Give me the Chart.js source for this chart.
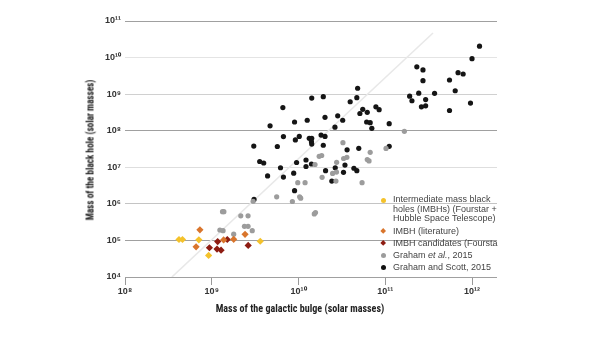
<!DOCTYPE html>
<html>
<head>
<meta charset="utf-8">
<script src="https://cdn.jsdelivr.net/npm/chart.js@4.4.1/dist/chart.umd.min.js"></script>
<style>
  html, body { margin:0; padding:0; background:#fff; }
  #wrap { position:relative; width:600px; height:337px; overflow:hidden; }
  canvas { position:absolute; left:0; top:0; }
  .title { position:absolute; font-family:"Liberation Sans Narrow","Roboto Condensed","Liberation Sans",sans-serif; font-weight:bold; font-size:10.5px; color:#222; white-space:nowrap; }
  #xtitle { left:0; width:600px; text-align:center; top:302px; transform:scaleX(0.96); }
  #ytitle { left:90px; top:150px; transform:translate(-50%,-50%) rotate(-90deg) scaleX(0.88); }
  #legend { position:absolute; left:378px; top:190px; width:120px; height:90px; overflow:hidden; font-family:"Liberation Sans",Arial,sans-serif; font-size:9px; color:#444; }
  .item { position:absolute; left:15px; white-space:nowrap; line-height:9.6px; }
  .mk { position:absolute; width:5px; height:5px; }
  .circ { border-radius:50%; }
  .dia { transform:rotate(45deg); width:4.4px; height:4.4px; }
</style>
</head>
<body>
<div id="wrap">
  <canvas id="c" width="600" height="337"></canvas>
  <div id="xtitle" class="title">Mass of the galactic bulge (solar masses)</div>
  <div id="ytitle" class="title">Mass of the black hole (solar masses)</div>
  <div id="legend">
    <div class="mk circ" style="left:3px;top:7.5px;background:#f4c22b"></div>
    <div class="item" style="top:5px">Intermediate mass black<br>holes (IMBHs) (Fourstar +<br>Hubble Space Telescope)</div>
    <div class="mk dia" style="left:3px;top:39px;background:#d9752c"></div>
    <div class="item" style="top:36.5px">IMBH (literature)</div>
    <div class="mk dia" style="left:3px;top:51px;background:#8e1c12"></div>
    <div class="item" style="top:48.5px">IMBH candidates (Fourstar + Hubble Space Telescope)</div>
    <div class="mk circ" style="left:3px;top:62.5px;background:#9c9c9c"></div>
    <div class="item" style="top:60.5px">Graham <i>et al.</i>, 2015</div>
    <div class="mk circ" style="left:3px;top:74.5px;background:#111"></div>
    <div class="item" style="top:72.5px">Graham and Scott, 2015</div>
  </div>
</div>
<script>
// ---- tick values and labels ----
const xTicks = [1e8, 1e9, 1e10, 1e11, 1e12];
const xTickLabels = ['10⁸', '10⁹', '10¹⁰', '10¹¹', '10¹²'];
const yTicks = [1e4, 1e5, 1e6, 1e7, 1e8, 1e9, 1e10, 1e11];
const yTickLabels = ['10⁴', '10⁵', '10⁶', '10⁷', '10⁸', '10⁹', '10¹⁰', '10¹¹'];

// ---- series: galactic bulge mass (x) and black hole mass (y), solar masses ----
const imbhFourstarBulge = [4.19e8, 4.6e8, 7.1e8, 9.2e8, 3.62e9];
const imbhFourstarBH    = [1.06e5, 1.06e5, 1.04e5, 3.9e4, 9.5e4];

const imbhLiteratureBulge = [7.3e8, 6.6e8, 1.37e9, 1.79e9, 2.42e9];
const imbhLiteratureBH    = [1.95e5, 6.7e4, 1.03e5, 1.07e5, 1.47e5];

const imbhCandidateBulge = [9.4e8, 1.17e9, 1.15e9, 1.28e9, 1.51e9, 2.63e9];
const imbhCandidateBH    = [6.3e4, 9.3e4, 5.8e4, 5.4e4, 1.06e5, 7.3e4];

const graham2015Bulge = [1.73e10, 1.85e10, 3.25e10, 1.66e11, 6.7e10, 1.02e11, 3.61e10, 3.31e10, 6.2e10, 6.5e10,
  2.75e10, 2.47e10, 2.74e10, 2.7e10, 5.4e10, 1.87e10, 9.8e9, 1.19e10, 1.03e10, 1.06e10,
  5.6e9, 8.5e9, 3.0e9, 1.52e10, 1.57e10, 1.55e10, 1.33e9, 1.38e9, 2.16e9, 2.62e9,
  2.38e9, 2.62e9, 2.93e9, 1.24e9, 1.35e9, 1.79e9];
const graham2015BH = [2.0e7, 2.1e7, 4.7e7, 9.6e7, 2.57e7, 3.27e7, 1.87e7, 1.74e7, 1.63e7, 1.49e7,
  1.37e7, 6.8e6, 7.4e6, 4.2e6, 3.79e6, 5.3e6, 3.79e6, 3.79e6, 1.56e6, 1.43e6,
  1.56e6, 1.16e6, 1.18e6, 5.3e5, 5.8e5, 1.19e7, 6.1e5, 6.1e5, 4.7e5, 4.7e5,
  2.43e5, 2.43e5, 1.85e5, 1.93e5, 1.85e5, 1.48e5];

const grahamScottBulge = [1.42e10, 1.93e10, 6.6e9, 4.7e9, 9.0e9, 1.26e10, 2.02e10, 6.7e9, 9.2e9, 1.02e10,
  1.33e10, 1.42e10, 1.41e10, 1.42e10, 1.82e10, 2.02e10, 1.93e10, 3.05e9, 5.7e9, 3.57e9,
  3.97e9, 9.5e9, 1.22e10, 1.41e10, 1.22e10, 6.2e9, 4.4e9, 6.7e9, 8.8e9, 2.05e10,
  9.0e9, 3.07e9, 4.8e10, 4.7e10, 3.94e10, 2.83e10, 3.23e10, 2.63e10, 5.5e10, 5.1e10,
  6.2e10, 7.8e10, 8.5e10, 6.1e10, 6.7e10, 7.0e10, 1.11e11, 4.95e10, 3.63e10, 1.11e11,
  2.65e10, 3.43e10, 4.35e10, 4.7e10, 3.3e10, 2.42e10, 2.31e11, 2.72e11, 2.72e11, 1.91e11,
  2.03e11, 2.43e11, 2.92e11, 2.61e11, 2.92e11, 3.7e11, 5.5e11, 6.9e11, 7.9e11, 6.4e11,
  5.5e11, 9.6e11, 1.0e12, 1.22e12];
const grahamScottBH = [7.8e8, 8.5e8, 4.3e8, 1.36e8, 1.73e8, 1.93e8, 2.33e8, 6.9e7, 5.6e7, 7.0e7,
  6.2e7, 6.2e7, 5.0e7, 4.3e7, 7.6e7, 7.0e7, 4.0e7, 3.8e7, 3.7e7, 1.44e7,
  1.31e7, 1.35e7, 1.58e7, 1.23e7, 1.05e7, 9.7e6, 5.8e6, 5.4e6, 6.9e6, 8.1e6,
  2.29e6, 1.32e6, 1.45e9, 8.0e8, 6.2e8, 2.56e8, 1.93e8, 1.25e8, 3.85e8, 2.96e8,
  3.19e8, 4.5e8, 3.76e8, 1.73e8, 1.66e8, 1.16e8, 1.56e8, 3.3e7, 3.0e7, 3.75e7,
  9.7e6, 1.15e7, 9.4e6, 8.1e6, 7.3e6, 4.2e6, 5.6e9, 4.6e9, 2.33e9, 8.8e8,
  6.6e8, 1.06e9, 7.1e8, 4.5e8, 4.8e8, 1.05e9, 2.44e9, 3.86e9, 3.56e9, 1.24e9,
  3.57e8, 5.7e8, 9.3e9, 2.05e10];

// reference relation line (two end points)
const relationBulge = [3.47e8, 3.55e11];
const relationBH    = [1e4, 4.7e10];

const pts = (xs, ys) => xs.map((x, i) => ({ x: x, y: ys[i] }));

const gridColors = { 4: '#a0a0a0', 5: '#a0a0a0', 6: '#c4c4c4', 7: '#dedede', 8: '#a0a0a0', 9: '#d0d0d0', 10: '#e4e4e4', 11: '#a0a0a0' };
const tickFont = { family: '"Liberation Sans Narrow","Liberation Sans",sans-serif', size: 9, weight: 'bold' };

new Chart(document.getElementById('c'), {
  type: 'scatter',
  data: {
    datasets: [
      { label: 'IMBHs (Fourstar + HST)', data: pts(imbhFourstarBulge, imbhFourstarBH), pointStyle: 'rectRot', pointRadius: 3.6, backgroundColor: '#f4c22b', borderColor: '#f4c22b', borderWidth: 0, order: 1 },
      { label: 'IMBH (literature)', data: pts(imbhLiteratureBulge, imbhLiteratureBH), pointStyle: 'rectRot', pointRadius: 3.6, backgroundColor: '#d9752c', borderColor: '#d9752c', borderWidth: 0, order: 1 },
      { label: 'IMBH candidates', data: pts(imbhCandidateBulge, imbhCandidateBH), pointStyle: 'rectRot', pointRadius: 3.6, backgroundColor: '#8e1c12', borderColor: '#8e1c12', borderWidth: 0, order: 1 },
      { label: 'Graham et al., 2015', data: pts(graham2015Bulge, graham2015BH), pointRadius: 2.6, backgroundColor: '#9c9c9c', borderColor: '#9c9c9c', borderWidth: 0, order: 2 },
      { label: 'Graham and Scott, 2015', data: pts(grahamScottBulge, grahamScottBH), pointRadius: 2.6, backgroundColor: '#151515', borderColor: '#151515', borderWidth: 0, order: 2 },
      { type: 'line', label: 'relation', data: pts(relationBulge, relationBH), borderColor: '#e8e8e8', borderWidth: 1.6, pointRadius: 0, fill: false, order: 5 }
    ]
  },
  options: {
    responsive: false,
    animation: false,
    layout: { padding: { top: 21, right: 103, left: 0, bottom: 0 } },
    plugins: { legend: { display: false }, tooltip: { enabled: false } },
    scales: {
      x: {
        type: 'logarithmic', min: 1e8, max: 1.94e12,
        afterBuildTicks: s => { s.ticks = xTicks.map(v => ({ value: v })); },
        afterFit: s => { s.height = 60; },
        grid: { drawOnChartArea: false, drawTicks: true, tickLength: 8, color: '#999' },
        border: { display: false },
        ticks: { callback: (v, i) => xTickLabels[i], font: tickFont, color: '#333', padding: 1, maxRotation: 0, autoSkip: false }
      },
      y: {
        type: 'logarithmic', min: 1e4, max: 1e11,
        afterBuildTicks: s => { s.ticks = yTicks.map(v => ({ value: v })); },
        afterFit: s => { s.width = 125; },
        grid: { drawTicks: false, color: ctx => gridColors[Math.round(Math.log10(ctx.tick ? ctx.tick.value : 1e4))] || '#bbb', lineWidth: 1 },
        border: { display: false },
        ticks: { callback: (v, i) => yTickLabels[i], font: tickFont, color: '#333', padding: 4, autoSkip: false }
      }
    }
  }
});
</script>
</body>
</html>
